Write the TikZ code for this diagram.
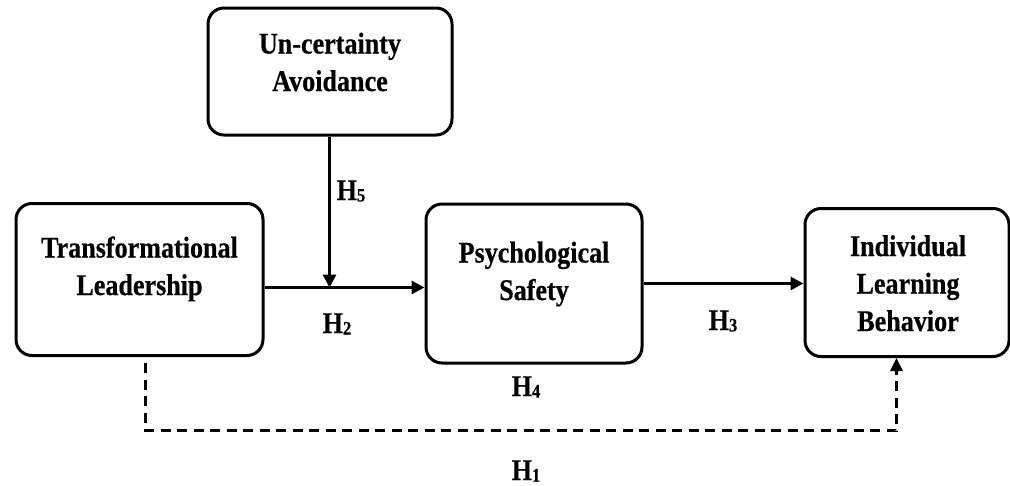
\documentclass[tikz,border=0pt]{standalone}
\usepackage{fontspec}
\setmainfont{Liberation Serif}[FakeStretch=0.87,BoldFeatures={FakeBold=0.5}]
\usetikzlibrary{arrows.meta}
\newcommand\hsub[1]{\raisebox{-1.5pt}{\fontsize{19}{20}\selectfont #1}}
\begin{document}
\begin{tikzpicture}[x=1pt,y=-1pt,
  box/.style={draw, line width=3pt, rounded corners=16pt, inner sep=0pt},
  txt/.style={align=center, font=\fontsize{30}{37.5}\selectfont\bfseries, inner sep=0pt, anchor=base},
  hlab/.style={font=\fontsize{30}{38}\selectfont\bfseries, inner sep=0pt, anchor=base},
  arr/.style={line width=3pt, -{Triangle[length=13pt,width=13pt]}},
  darr/.style={line width=2.8pt, dash pattern=on 10pt off 6.5pt, -{Triangle[length=13pt,width=12pt]}}]
\useasboundingbox (0,0) rectangle (1010,485);
\node[box, minimum width=247pt, minimum height=152pt] (TL) at (139.5,279.5) {};
\node[txt] (TLt) at (139.5,295) {Transformational\\Leadership};
\node[box, minimum width=216pt, minimum height=159pt] (PS) at (534,283.5) {};
\node[txt] (PSt) at (534,300) {Psychological\\Safety};
\node[box, minimum width=204pt, minimum height=148pt] (ILB) at (907,282.5) {};
\node[txt] (ILBt) at (908,331) {Individual\\Learning\\Behavior};
\node[box, minimum width=244pt, minimum height=127pt] (UA) at (330,71.5) {};
\node[txt] (UAt) at (330,91) {Un-certainty\\Avoidance};
\node[hlab] (h5) at (351,200) {H\hsub{5}};
\node[hlab] (h2) at (337,333) {H\hsub{2}};
\node[hlab] (h3) at (723,330) {H\hsub{3}};
\node[hlab] (h4) at (526,396) {H\hsub{4}};
\node[hlab] (h1) at (526,480) {H\hsub{1}};
\coordinate (j) at (329.5,287.5);
\draw[arr] (TL.east |- j) -- (PS.west |- j);
\draw[arr] (UA.south -| j) -- (j);
\draw[arr] (PS.east) -- (PS.east -| ILB.west);
\coordinate (d1) at (145.5,430.5);
\coordinate (d2) at (896.5,430.5);
\draw[darr, shorten <=6pt] (TL.south -| d1) -- (d1) -- (d2) -- (d2 |- ILB.south);
\end{tikzpicture}
\end{document}
